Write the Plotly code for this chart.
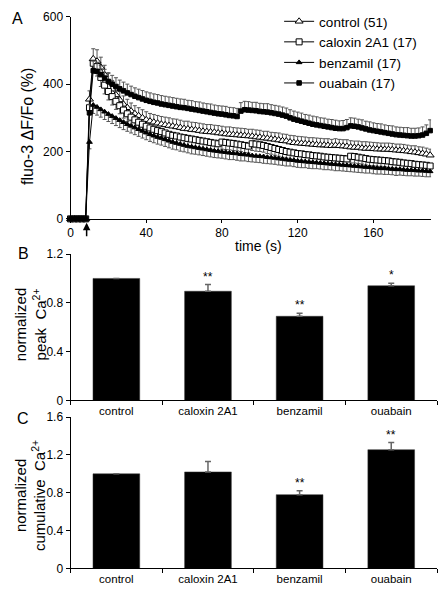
import plotly.graph_objects as go

# ---------------- data ----------------
time_s = list(range(0, 192, 2))

control = [0, 0, 0, 0, 0,
           355, 475, 468, 450, 428, 405, 385, 368, 353, 340, 330, 320, 312, 306, 300, 294, 290, 287, 284, 281,
           279, 277, 275, 273, 271, 268, 267, 265, 264, 262, 260, 259, 258, 257, 255, 254, 252, 251, 250, 249, 248, 247, 246, 245, 243,
           242, 240, 239, 237, 236, 234, 232, 231, 228, 226, 225, 224, 223, 222, 221, 220, 219, 219, 218, 217, 218, 217, 216, 215, 213,
           212, 212, 210, 209, 209, 208, 207, 207, 206, 206, 205, 204, 203, 202, 201, 199, 198, 196, 194, 192, 189]
control_err = [0, 0, 0, 0, 0,
               25, 30, 34, 30, 28, 27, 26, 26, 25, 25, 25, 24, 24, 24, 24, 24, 23, 23, 23, 23,
               23, 23, 22, 23, 22, 22, 23, 22, 22, 22, 22, 21, 22, 21, 22, 21, 21, 22, 21, 21, 21, 21, 20, 21, 21,
               21, 20, 21, 20, 20, 21, 20, 20, 20, 21, 20, 20, 20, 19, 20, 20, 20, 19, 20, 19, 20, 19, 19, 20, 19,
               19, 19, 19, 20, 19, 19, 19, 18, 19, 19, 19, 18, 19, 19, 18, 18, 19, 18, 19, 18, 18]

caloxin = [0, 0, 0, 0, 0,
           330, 462, 452, 420, 397, 378, 363, 349, 336, 323, 312, 302, 294, 287, 281, 275, 270, 266, 262, 259,
           255, 251, 248, 246, 243, 241, 239, 237, 235, 233, 231, 229, 227, 225, 223, 228, 227, 225, 224, 222, 220, 218, 216, 223, 222,
           220, 218, 215, 212, 209, 206, 203, 200, 198, 196, 194, 193, 191, 190, 188, 187, 186, 184, 183, 182, 181, 180, 179, 178, 186,
           185, 183, 181, 179, 177, 176, 175, 174, 173, 172, 170, 169, 168, 166, 165, 164, 162, 161, 160, 159, 157]
caloxin_err = [0, 0, 0, 0, 0,
               22, 30, 28, 27, 26, 25, 25, 24, 24, 24, 23, 23, 23, 23, 22, 22, 22, 22, 22, 22,
               22, 22, 21, 22, 21, 21, 22, 21, 21, 21, 21, 21, 20, 21, 21, 21, 21, 20, 21, 20, 20, 21, 20, 20, 21,
               20, 20, 21, 20, 20, 20, 20, 19, 20, 20, 20, 19, 20, 19, 20, 19, 19, 20, 19, 19, 19, 19, 19, 19, 20,
               19, 19, 18, 19, 19, 18, 19, 18, 18, 19, 18, 18, 18, 18, 18, 18, 17, 18, 18, 17, 18]

benzamil = [0, 0, 0, 0, 0,
            228, 338, 332, 325, 318, 311, 305, 299, 293, 287, 281, 276, 271, 266, 261, 256, 251, 247, 243, 240,
            236, 232, 228, 225, 222, 219, 216, 214, 212, 210, 208, 206, 204, 202, 201, 199, 198, 196, 195, 194, 192, 191, 190, 188, 187,
            186, 185, 183, 182, 181, 179, 178, 176, 175, 174, 172, 171, 170, 169, 168, 167, 166, 165, 164, 163, 162, 161, 160, 159, 158,
            157, 156, 155, 154, 153, 152, 151, 150, 150, 149, 148, 147, 147, 146, 145, 145, 144, 143, 143, 142, 141]
benzamil_err = [0, 0, 0, 0, 0,
                20, 25, 24, 23, 23, 22, 22, 22, 22, 22, 21, 21, 21, 21, 21, 21, 21, 21, 21, 21,
                21, 21, 21, 20, 21, 20, 20, 21, 20, 20, 20, 20, 20, 20, 20, 19, 20, 20, 19, 20, 20, 19, 20, 19, 19,
                19, 20, 19, 19, 19, 19, 19, 19, 18, 19, 19, 19, 18, 19, 19, 18, 18, 19, 18, 18, 19, 18, 18, 18, 18,
                18, 18, 18, 18, 17, 18, 18, 17, 18, 17, 17, 18, 17, 17, 17, 17, 17, 16, 17, 17, 16]

ouabain = [0, 0, 0, 0, 0,
           315, 440, 438, 428, 418, 408, 400, 393, 386, 380, 374, 369, 364, 360, 356, 352, 349, 346, 344, 341,
           339, 337, 335, 333, 331, 330, 328, 326, 324, 322, 320, 318, 316, 314, 312, 311, 309, 307, 306, 304, 320, 324, 323, 322, 321,
           319, 318, 317, 315, 313, 311, 308, 305, 300, 296, 293, 290, 287, 284, 281, 279, 277, 275, 273, 271, 269, 268, 268, 271, 276,
           275, 273, 270, 267, 264, 262, 260, 258, 256, 254, 252, 250, 249, 248, 247, 246, 246, 247, 249, 254, 262]
ouabain_err = [0, 0, 0, 0, 0,
               25, 28, 27, 27, 26, 26, 26, 26, 26, 26, 26, 25, 25, 25, 25, 25, 25, 25, 25, 25,
               25, 25, 25, 25, 25, 25, 24, 25, 24, 25, 24, 24, 25, 24, 24, 24, 25, 24, 24, 24, 25, 25, 25, 24, 25,
               24, 24, 25, 24, 24, 24, 24, 24, 24, 24, 24, 24, 23, 24, 24, 24, 23, 24, 23, 24, 24, 23, 24, 24, 24,
               24, 23, 24, 23, 24, 23, 23, 24, 23, 23, 24, 23, 23, 23, 24, 23, 23, 23, 24, 25, 32]

series_names = ["control (51)", "caloxin 2A1 (17)", "benzamil (17)", "ouabain (17)"]

categories = ["control", "caloxin 2A1", "benzamil", "ouabain"]
peak_vals = [1.0, 0.895, 0.69, 0.94]
peak_err = [0.0, 0.055, 0.025, 0.02]
peak_stars = ["", "**", "**", "*"]
cum_vals = [1.0, 1.02, 0.78, 1.255]
cum_err = [0.0, 0.11, 0.04, 0.075]
cum_stars = ["", "", "**", "**"]

time_ticks = [0, 40, 80, 120, 160]
a_yticks = [0, 200, 400, 600]
b_yticks = [0, 0.4, 0.8, 1.2]
c_yticks = [0, 0.4, 0.8, 1.2, 1.6]

# ---------------- figure ----------------
W, H = 443, 593
FONT = "Liberation Sans, Arial, sans-serif"


def px_x(p):
    return p / W


def px_y(p):
    return 1 - p / H


fig = go.Figure()
zeros = [0] * len(time_s)

styles = [
    (control, control_err, True, "triangle-up", 7, "white"),
    (caloxin, caloxin_err, False, "square", 6, "white"),
    (benzamil, benzamil_err, False, "triangle-up", 5, "black"),
    (ouabain, ouabain_err, True, "square", 4.5, "black"),
]
for name, (ys, err, up, sym, size, fill) in zip(series_names, styles):
    fig.add_trace(go.Scatter(
        x=time_s, y=ys, name=name, mode="lines+markers",
        line=dict(color="black", width=1),
        marker=dict(symbol=sym, size=size, color=fill, line=dict(color="black", width=1)),
        error_y=dict(type="data", symmetric=False,
                     array=err if up else zeros,
                     arrayminus=zeros if up else err,
                     color="#555", thickness=1, width=2),
        cliponaxis=False, xaxis="x", yaxis="y",
    ))

fig.add_trace(go.Bar(
    x=categories, y=peak_vals, width=0.51, marker=dict(color="black", line=dict(color="#333", width=0.5)),
    error_y=dict(type="data", symmetric=False, array=peak_err, arrayminus=[0] * 4,
                 color="#666", thickness=1.5, width=3),
    showlegend=False, xaxis="x2", yaxis="y2",
))
fig.add_trace(go.Bar(
    x=categories, y=cum_vals, width=0.51, marker=dict(color="black", line=dict(color="#333", width=0.5)),
    error_y=dict(type="data", symmetric=False, array=cum_err, arrayminus=[0] * 4,
                 color="#666", thickness=1.5, width=3),
    showlegend=False, xaxis="x3", yaxis="y3",
))

axis_common = dict(showline=True, linecolor="black", linewidth=1, showgrid=False, zeroline=False,
                   ticks="outside", tickcolor="black", ticklen=4, tickwidth=1,
                   tickfont=dict(family=FONT, size=12, color="black"))

annotations = []
# stars
for cat, v, e, s in zip(categories, peak_vals, peak_err, peak_stars):
    if s:
        annotations.append(dict(x=cat, y=v + e, xref="x2", yref="y2", text=s, showarrow=False,
                                yanchor="bottom", yshift=-1, font=dict(family=FONT, size=12, color="black")))
for cat, v, e, s in zip(categories, cum_vals, cum_err, cum_stars):
    if s:
        annotations.append(dict(x=cat, y=v + e, xref="x3", yref="y3", text=s, showarrow=False,
                                yanchor="bottom", yshift=-1, font=dict(family=FONT, size=12, color="black")))

# panel letters
for letter, xp, yp in [("A", 15, 12), ("B", 21, 252), ("C", 20, 421)]:
    annotations.append(dict(x=px_x(xp), y=px_y(yp), xref="paper", yref="paper", text=letter,
                            showarrow=False, xanchor="center", yanchor="middle",
                            font=dict(family=FONT, size=16, color="black")))

# axis titles
annotations.append(dict(x=px_x(24), y=px_y(122), xref="paper", yref="paper", text="fluo-3 ΔF/Fo (%)",
                        textangle=-90, showarrow=False, xanchor="center", yanchor="middle",
                        font=dict(family=FONT, size=16, color="black")))
annotations.append(dict(x=px_x(28), y=px_y(325), xref="paper", yref="paper",
                        text="normalized<br>peak  Ca<sup>2+</sup>",
                        textangle=-90, showarrow=False, xanchor="center", yanchor="middle",
                        font=dict(family=FONT, size=15, color="black")))
annotations.append(dict(x=px_x(27), y=px_y(500), xref="paper", yref="paper",
                        text="normalized<br>cumulative  Ca<sup>2+</sup>",
                        textangle=-90, showarrow=False, xanchor="center", yanchor="middle",
                        font=dict(family=FONT, size=15, color="black")))
annotations.append(dict(x=px_x(257), y=px_y(245), xref="paper", yref="paper", text="time (s)",
                        showarrow=False, xanchor="center", yanchor="middle",
                        font=dict(family=FONT, size=14, color="black")))
# stimulus arrow
annotations.append(dict(x=8.5, y=px_y(221), xref="x", yref="paper", text="", showarrow=True,
                        ax=0, ay=15, arrowhead=2, arrowsize=1, arrowwidth=1.5, arrowcolor="black"))

fig.update_layout(
    autosize=True,
    margin=dict(l=0, r=0, t=0, b=0),
    paper_bgcolor="white", plot_bgcolor="white",
    font=dict(family=FONT, color="black"),
    xaxis=dict(domain=[px_x(68), px_x(431)], range=[0, 190.5], tickvals=time_ticks, anchor="y",
               **{**axis_common, "ticklen": 3}),
    yaxis=dict(domain=[px_y(217), px_y(10)], range=[0, 600], tickvals=a_yticks, anchor="x", **axis_common),
    xaxis2=dict(domain=[px_x(68), px_x(437)], type="category", range=[-0.5, 3.5], tickson="boundaries",
                anchor="y2", **{**axis_common, "tickfont": dict(family=FONT, size=11.5, color="black")}),
    yaxis2=dict(domain=[px_y(403), px_y(253)], range=[0, 1.2], tickvals=b_yticks, anchor="x2", **axis_common),
    xaxis3=dict(domain=[px_x(68), px_x(437)], type="category", range=[-0.5, 3.5], tickson="boundaries",
                anchor="y3", **{**axis_common, "tickfont": dict(family=FONT, size=11.5, color="black")}),
    yaxis3=dict(domain=[px_y(575), px_y(420)], range=[0, 1.6], tickvals=c_yticks, anchor="x3", **axis_common),
    legend=dict(x=px_x(278), y=px_y(-1), xanchor="left", yanchor="top", bgcolor="rgba(0,0,0,0)",
                font=dict(family=FONT, size=13.5, color="black"), tracegroupgap=0),
    annotations=annotations,
    bargap=0.49,
)

post = ("document.documentElement.style.margin='0';document.body.style.margin='0';"
        "document.body.style.padding='0';document.body.style.overflow='hidden';"
        "var gd=document.getElementById('{plot_id}');gd.style.width='100vw';gd.style.height='100vh';"
        "Plotly.Plots.resize(gd);")
fig.write_html("out.html", default_width="100vw", default_height="100vh",
               config={"displayModeBar": False, "responsive": True}, post_script=post)
